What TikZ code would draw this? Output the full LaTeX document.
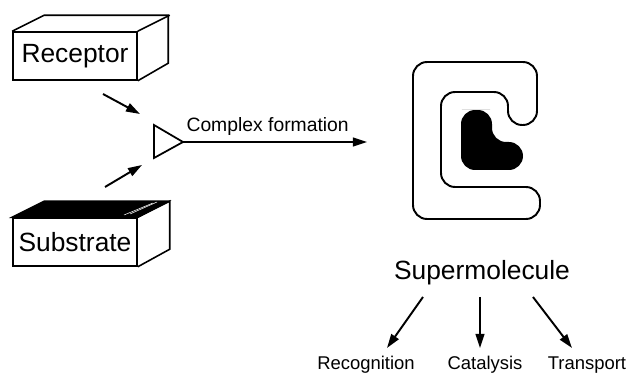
\documentclass[tikz,border=0pt]{standalone}
\usepackage{fontspec}
\setmainfont{Liberation Sans}
\usetikzlibrary{arrows.meta}
\tikzset{
    face/.style={draw, line width=0.9pt, minimum width=2.48cm, minimum height=0.96cm, inner sep=0pt, font=\fontsize{15}{18}\selectfont},
    flow/.style={line width=1.1pt, -{Triangle[length=8pt,width=5pt]}},
    big/.style={font=\fontsize{15}{18}\selectfont},
    small/.style={font=\fontsize{10.5}{12}\selectfont}
}

\begin{document}
\begin{tikzpicture}[x=0.02cm, y=-0.02cm]
        \newcommand{\cubedx}{32}
        \newcommand{\cubedy}{-16}
        \newcommand{\cubew}{124}
        \newcommand{\cubeh}{48}
        \useasboundingbox (0,0) rectangle (630,375);
        \node[face] (receptor) at (75,56) {Receptor};
        \draw[line width=0.9pt] (receptor.north west) -- ++(\cubedx,\cubedy) -- ++(\cubew,0) -- ++(0,\cubeh) -- (receptor.south east);
        \draw[line width=0.9pt] (receptor.north east) -- ++(\cubedx,\cubedy);
        \node[face] (substrate) at (75,242) {Substrate};
        \filldraw[line width=0.9pt] (substrate.north west) -- ++(\cubedx,\cubedy) -- ++(\cubew,0) -- (substrate.north east) -- cycle;
        \draw[line width=0.9pt] (substrate.north east) -- ++(\cubedx,\cubedy) -- ++(0,\cubeh) -- (substrate.south east);
        \draw[white, line width=0.3pt] (124,215) -- (153,203);
        \draw[white, line width=0.3pt] (130,214) -- (157,202);
        \coordinate (mixtip) at (183,142);
        \draw[line width=1pt] (mixtip) -- ++(-29,-17) -- ++(0,33) -- cycle;
        \coordinate (recout) at (103,94);
        \coordinate (recin) at (140,114);
        \coordinate (subout) at (105,187);
        \coordinate (subin) at (142,165);
        \draw[flow] (recout) -- (recin);
        \draw[flow] (subout) -- (subin);
        \coordinate (cplx) at (367,142);
        \draw[flow] (mixtip) -- node[pos=0.46, above, small, font=\fontsize{11}{13}\selectfont] {Complex formation} (cplx);
        \draw[line width=1.1pt, rounded corners=8pt] (470,62) -- (537,62) -- (537,125) -- (508,125) -- (508,92) -- (441,92) -- (441,187) -- (540,187) -- (540,219) -- (413,219) -- (413,62) -- cycle;
        \fill[rounded corners=8pt] (476,110) -- (492,110) -- (492,142) -- (523,142) -- (523,170) -- (461,170) -- (461,110) -- cycle;
        \node[big] (supermol) at (482,273) {Supermolecule};
        \coordinate (recogfrom) at (423,297);
        \coordinate (recogto) at (387,348);
        \coordinate (catfrom) at (480,297);
        \coordinate (catto) at (480,348);
        \coordinate (transfrom) at (533,297);
        \coordinate (transto) at (572,348);
        \draw[flow] (recogfrom) -- (recogto);
        \draw[flow] (catfrom) -- (catto);
        \draw[flow] (transfrom) -- (transto);
        \node[small] (recog) at (366,365) {Recognition};
        \node[small] (catal) at (485,365) {Catalysis};
        \node[small] (transp) at (587,365) {Transport};
    \end{tikzpicture}
\end{document}
